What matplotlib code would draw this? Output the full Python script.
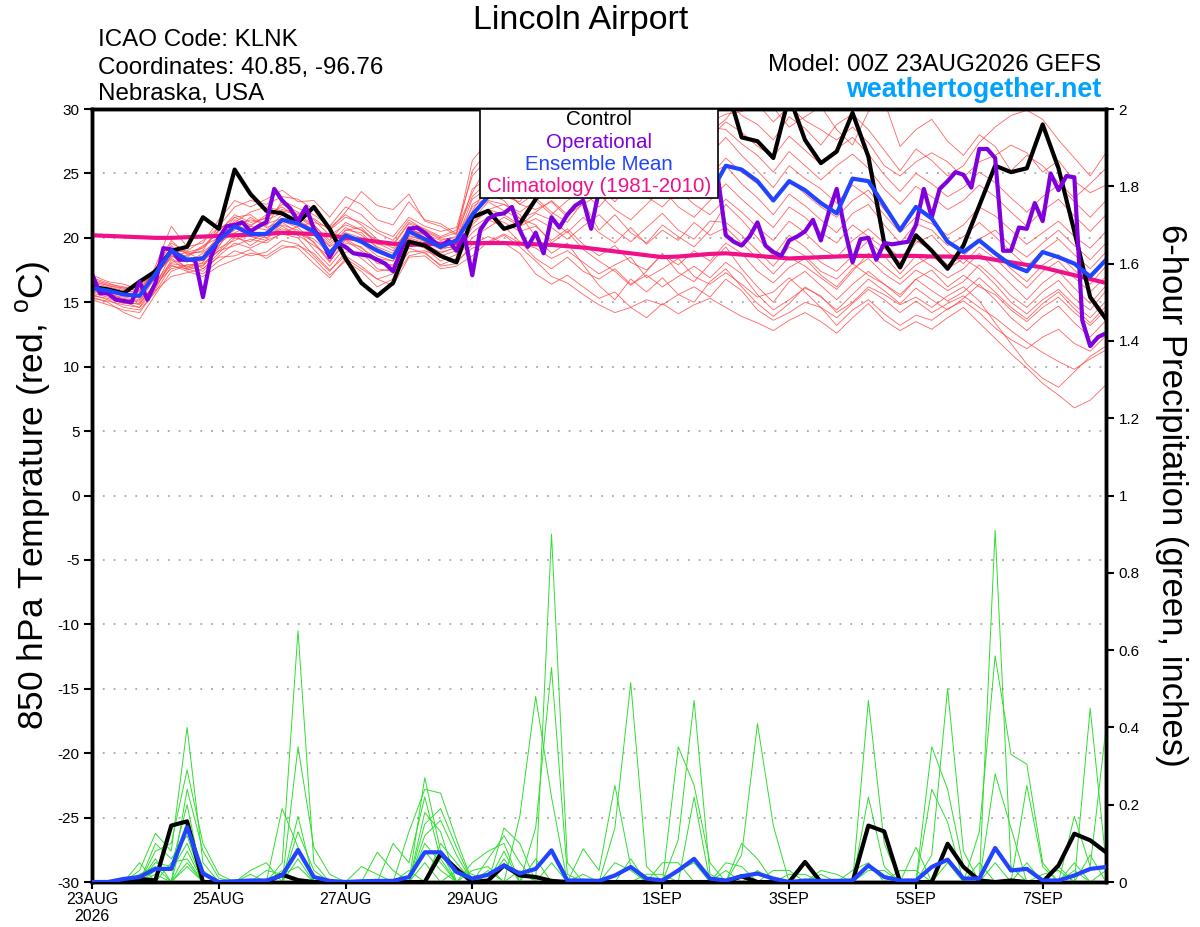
import matplotlib.pyplot as plt
import numpy as np

plt.rcParams['font.family'] = ['Liberation Sans', 'DejaVu Sans']
plt.rcParams['axes.unicode_minus'] = False
plt.rcParams['mathtext.fontset'] = 'custom'
plt.rcParams['mathtext.rm'] = 'Liberation Sans'

# forecast hours, 00Z 23AUG2026 run
hours = np.arange(0, 385, 6)
hours_op = np.arange(0, 385, 3)

tick_hours = [0, 48, 96, 144, 216, 264, 312, 360]
tick_labels = ["23AUG\n2026", "25AUG", "27AUG", "29AUG", "1SEP", "3SEP", "5SEP", "7SEP"]

# 850 hPa temperature (C)
control_t = [16.2,16.0,15.7,16.6,17.4,19.0,19.3,21.6,20.7,25.3,
             23.4,22.1,21.9,21.2,22.4,20.7,18.4,16.5,15.5,16.5,
             19.7,19.4,18.6,18.1,21.6,22.1,20.7,21.1,23.0,24.5,
             25.5,26.0,27.0,27.5,28.5,28.0,29.0,30.0,31.0,32.0,
             32.0,27.8,27.5,26.2,31.0,27.6,25.8,26.7,29.7,26.3,
             19.6,17.7,20.2,19.0,17.6,19.4,22.5,25.6,25.1,25.4,
             28.8,25.4,20.5,15.4,13.7]

mean_t = [16.1,15.9,15.6,15.5,17.2,19.0,18.3,18.4,19.8,20.9,
          20.3,20.3,21.4,21.1,20.5,18.8,20.2,19.7,19.0,18.5,
          20.5,19.9,19.3,19.8,21.8,23.2,23.5,23.2,23.8,24.0,
          23.6,24.2,24.0,23.5,24.2,23.8,24.0,23.5,23.8,23.4,
          25.6,25.3,24.4,22.9,24.4,23.7,22.7,21.9,24.6,24.4,
          22.5,20.6,22.4,21.5,19.7,18.9,19.8,18.8,17.9,17.4,
          18.9,18.5,18.0,17.0,18.3]

# operational run, every 3 hours
oper_t = [17.2,15.7,15.7,15.2,15.1,15.0,16.6,15.2,16.5,19.2,
          19.1,18.3,18.3,18.3,15.4,18.5,20.0,20.9,21.0,21.2,
          20.5,20.9,21.2,23.8,22.9,22.3,21.3,22.4,20.7,19.8,
          18.5,19.6,
          19.3,18.8,18.7,18.6,18.3,18.0,17.4,19.0,20.7,20.8,
          20.4,19.8,19.3,19.8,19.0,20.2,17.1,20.6,21.5,21.8,
          21.9,22.4,20.6,19.3,20.4,18.8,21.6,20.8,21.8,22.5,
          22.9,20.7,23.7,
          24.4,23.6,24.8,25.3,24.9,25.7,25.1,24.5,25.9,25.3,
          24.7,25.5,25.0,24.6,24.7,
          20.2,19.7,19.4,20.1,21.2,19.4,18.9,18.6,19.8,20.1,
          20.5,21.4,19.8,22.0,23.8,20.7,18.1,19.9,
          20.0,18.3,19.6,19.5,19.6,19.7,21.0,23.8,21.6,23.8,
          24.4,25.1,24.9,23.9,26.9,26.9,26.2,19.0,19.0,20.8,
          20.7,22.7,21.3,25.0,23.7,24.8,24.7,13.6,11.6,12.3,
          12.6]

clim_t = [20.2,20.15,20.1,20.05,20.0,20.0,20.05,20.1,20.15,20.2,
          20.25,20.3,20.4,20.35,20.3,20.2,20.0,19.85,19.7,19.55,
          19.45,19.5,19.55,19.6,19.6,19.6,19.6,19.55,19.5,19.45,
          19.35,19.25,19.1,18.95,18.8,18.65,18.5,18.55,18.65,18.75,
          18.8,18.7,18.6,18.5,18.4,18.45,18.5,18.55,18.6,18.6,
          18.6,18.6,18.6,18.55,18.55,18.5,18.5,18.3,18.1,17.9,
          17.7,17.4,17.1,16.8,16.5]

member_t = [
    [16.4,16.0,15.8,15.9,17.5,19.6,18.9,19.2, 20.5,21.8,21.2,21.5,22.6,22.0,21.4,20.2,
     21.0,20.6,19.8,19.5,21.2,20.7,20.1,20.6, 23.5,25.8,25.0,24.2,26.0,27.2,26.4,27.8,
     28.6,29.4,28.2,29.8,30.6,29.2,28.4,29.6, 30.8,29.5,28.8,27.6,29.4,28.5,27.2,28.8,
     29.6,28.4,26.8,25.2,26.9,26.0,24.8,25.6, 27.4,28.6,29.5,29.9,29.2,27.6,26.2,24.8,26.6],
    [15.6,15.2,14.6,14.4,15.8,17.8,17.6,17.2, 18.2,19.0,18.6,18.9,19.8,19.5,18.4,17.1,
     18.2,17.4,16.2,16.8,18.6,18.9,17.8,18.0, 19.5,20.1,19.6,18.8,17.2,16.4,17.1,16.2,
     15.3,15.8,14.6,15.2,14.8,15.6,16.2,15.4, 16.8,15.9,14.4,13.6,14.2,15.0,14.6,13.2,
     14.4,15.2,14.1,13.2,14.0,13.6,14.5,15.1, 14.2,13.0,12.1,11.4,12.3,12.9,11.8,11.2,12.4],
    [16.8,16.4,16.2,15.8,17.0,18.6,18.1,18.8, 19.6,20.4,20.9,20.6,21.8,21.1,20.2,19.0,
     20.4,20.0,18.9,18.4,20.2,19.7,19.1,19.4, 22.1,24.0,23.2,22.8,24.6,24.1,25.2,24.6,
     26.2,25.4,26.8,25.9,27.2,26.3,25.1,26.5, 27.8,26.4,25.2,23.9,25.6,24.6,23.8,22.7,
     24.1,23.2,21.8,20.4,21.6,21.1,20.2,21.0, 22.4,21.7,20.6,19.5,20.4,21.3,20.1,19.2,20.5],
    [15.9,15.7,15.1,14.8,16.6,18.1,18.4,17.6, 18.8,20.0,19.7,20.5,21.0,20.6,19.1,17.8,
     19.3,18.4,17.4,17.6,19.6,19.2,18.2,18.7, 20.8,21.6,21.2,20.5,20.9,19.8,20.7,19.5,
     18.6,19.4,18.1,17.5,18.7,17.9,19.0,18.2, 19.6,18.8,17.4,16.5,17.7,18.4,17.1,16.2,
     17.6,18.4,17.2,16.4,17.5,16.8,15.9,16.6, 17.9,16.8,15.5,14.6,15.8,16.7,15.3,14.4,15.9],
    [16.2,16.1,15.6,15.4,17.8,20.9,19.3,19.6, 21.4,22.9,22.4,23.0,23.7,22.8,22.9,21.6,
     23.2,22.6,21.4,21.0,22.8,21.4,21.1,20.3, 26.0,27.5,25.8,24.0,24.7,25.6,26.8,25.5,
     26.3,28.6,29.8,30.4,29.1,30.6,29.4,28.2, 29.2,30.8,31.2,30.1,28.6,29.4,30.2,28.4,
     27.2,29.8,30.6,27.1,28.4,29.2,27.5,26.4, 28.0,27.1,25.2,26.4,25.6,24.3,23.1,24.2,25.4],
    [15.4,15.0,14.2,13.7,15.6,17.4,17.9,18.0, 19.0,19.4,19.9,19.6,20.4,20.9,21.2,20.8,
     21.8,21.0,19.9,19.2,20.6,20.3,19.8,20.1, 21.4,22.8,22.1,21.5,22.0,22.9,21.8,22.6,
     23.4,22.2,21.4,22.6,23.8,22.4,21.6,22.9, 24.2,23.0,21.9,20.8,22.4,21.6,20.4,19.6,
     21.0,20.1,19.2,18.1,19.6,20.2,18.9,18.0, 19.3,18.4,17.2,16.1,17.4,18.2,16.9,15.8,17.0],
    [16.6,16.3,16.0,16.2,17.2,18.4,17.7,18.3, 19.4,20.8,20.1,19.8,21.2,20.4,19.7,18.2,
     19.6,19.3,18.0,17.9,19.9,19.5,18.6,19.0, 20.4,21.4,20.9,19.7,18.4,17.6,18.5,17.4,
     16.8,17.6,16.4,17.1,16.2,17.0,17.8,16.9, 18.1,17.2,15.6,14.4,15.2,16.1,15.5,14.2,
     15.0,16.2,15.6,14.8,15.4,14.6,15.5,16.2, 15.1,13.4,11.8,10.2,9.1,8.4,9.6,10.8,11.6],
    [17.1,16.6,16.4,16.0,16.8,18.9,19.0,19.8, 20.8,21.2,22.0,22.4,22.1,21.8,21.0,19.6,
     20.8,20.2,19.3,18.8,20.9,20.0,19.6,19.9, 23.8,24.6,24.2,23.6,24.2,23.4,24.5,25.6,
     24.8,26.4,27.6,26.9,28.2,27.3,26.6,27.8, 29.0,28.2,27.1,26.3,27.9,26.8,25.7,26.9,
     27.8,26.5,24.9,23.6,25.0,24.2,23.2,23.9, 25.1,24.3,23.1,22.0,23.2,24.1,22.8,21.6,22.9],
    [15.2,14.8,14.4,14.2,15.9,17.0,17.3,17.6, 18.5,18.6,19.1,18.4,19.2,19.4,18.8,17.5,
     18.6,17.8,16.8,17.2,18.9,19.0,18.5,18.2, 19.2,19.6,20.2,19.3,18.2,17.0,16.5,15.6,
     14.8,14.2,14.6,13.8,14.9,14.1,14.8,15.3, 14.6,13.9,13.4,12.8,13.6,14.2,13.5,12.6,
     13.8,14.9,13.6,12.8,13.5,12.9,13.8,14.6, 13.4,12.2,11.0,9.9,8.7,7.8,6.8,7.4,8.6],
    [16.0,15.5,15.3,15.1,16.9,19.4,18.2,18.6, 20.2,21.0,20.6,21.4,21.9,21.4,20.6,19.3,
     20.1,19.6,18.6,18.2,20.4,19.8,19.4,19.6, 21.9,22.9,22.6,22.0,22.9,21.8,22.9,23.6,
     22.4,23.8,24.9,24.0,25.4,24.6,23.4,24.8, 26.2,25.1,24.2,22.9,24.5,23.4,22.4,21.6,
     22.9,23.7,22.2,20.8,22.3,21.4,19.8,18.9, 19.9,20.6,19.4,18.5,19.6,20.6,19.4,18.3,19.6],
    [16.5,16.2,15.9,15.7,17.4,18.8,18.6,19.4, 20.0,21.6,21.8,20.9,22.9,22.3,21.8,20.9,
     22.4,21.8,20.6,20.1,21.6,20.9,20.5,20.8, 24.8,26.2,25.4,24.6,23.1,22.0,21.2,22.8,
     20.6,21.8,20.4,19.6,21.0,20.1,19.3,20.6, 22.6,21.4,20.0,18.6,20.2,19.3,18.1,17.4,
     18.6,19.8,18.6,17.2,18.6,17.8,16.9,17.6, 18.8,17.6,16.4,15.2,16.5,17.4,16.1,14.9,16.3],
    [15.8,15.6,15.4,15.2,16.2,18.0,17.8,17.4, 18.6,19.6,19.2,19.8,20.3,20.0,18.6,17.4,
     18.9,18.9,17.6,17.4,19.2,18.8,17.9,18.4, 20.0,20.8,21.6,20.9,21.5,20.8,19.9,20.9,
     21.8,20.6,19.7,20.8,21.9,20.6,19.9,21.3, 21.2,20.2,19.0,17.8,19.3,18.6,17.4,16.8,
     18.0,17.1,16.4,15.4,16.8,17.5,16.2,17.1, 16.2,15.6,14.4,13.5,14.6,15.4,14.2,13.2,14.4],
    [16.3,15.8,15.6,15.6,17.6,19.8,18.7,19.0, 20.9,22.4,22.9,22.6,23.2,23.0,22.2,20.6,
     22.0,23.6,22.5,22.2,23.4,21.3,20.9,20.2, 25.2,26.8,25.6,23.8,24.6,25.6,24.6,26.2,
     27.2,28.0,26.6,27.8,29.0,28.6,27.3,28.6, 28.4,27.3,26.4,25.1,26.7,25.6,24.5,25.6,
     26.5,25.4,23.8,22.6,24.0,23.2,22.2,22.9, 24.1,23.2,22.0,20.9,22.1,23.0,21.7,20.5,21.8],
    [15.5,15.3,14.9,14.9,16.4,17.6,17.9,17.8, 19.2,19.8,20.3,20.0,20.9,20.2,19.4,18.6,
     19.8,19.0,18.2,17.8,19.8,19.4,18.9,19.2, 22.6,23.4,22.9,21.5,21.0,19.6,20.5,19.1,
     18.2,17.4,16.3,17.4,18.8,17.3,16.6,18.0, 19.3,17.6,16.2,15.0,16.6,17.4,16.3,15.2,
     16.4,17.4,16.4,15.6,16.8,15.9,15.1,15.8, 16.9,15.8,14.6,13.7,14.9,15.8,14.5,13.4,14.7],
    [16.9,16.5,16.1,16.4,17.1,19.2,18.8,18.9, 19.9,20.9,21.4,21.1,21.5,21.6,21.0,19.8,
     21.2,20.6,19.6,19.0,20.7,20.2,19.4,19.8, 23.0,23.9,23.6,22.6,23.5,24.1,23.2,24.4,
     25.6,24.6,23.2,24.4,25.9,24.8,23.7,25.0, 25.6,24.2,23.1,21.8,23.4,22.5,21.4,20.4,
     21.9,22.6,21.0,19.6,21.1,20.6,19.4,20.1, 21.2,20.1,18.9,17.8,19.0,19.9,18.7,17.6,18.9],
    [15.7,15.4,15.0,14.6,16.0,18.3,17.5,17.9, 19.0,20.2,19.4,20.2,20.7,20.4,19.9,18.8,
     20.6,20.4,19.2,18.6,20.1,19.9,19.3,19.2, 21.2,22.2,21.8,21.0,21.9,21.4,20.4,21.6,
     20.4,19.6,20.8,19.5,20.6,19.8,21.2,20.2, 20.8,19.6,18.4,17.2,18.5,17.8,16.9,16.0,
     17.4,18.8,17.8,16.8,17.9,18.6,17.6,18.4, 17.6,16.4,15.0,14.1,15.2,16.0,14.8,13.8,15.1],
    [16.1,15.9,15.7,15.3,17.3,18.5,18.9,18.2, 19.3,21.4,20.9,21.8,22.4,21.6,20.8,19.4,
     20.6,20.8,19.5,19.4,21.1,20.5,19.9,20.0, 22.4,23.2,24.0,23.2,24.8,25.6,26.0,25.0,
     26.8,27.6,28.4,27.2,26.4,28.0,27.8,29.0, 29.6,29.8,30.4,29.0,30.2,29.1,28.4,27.6,
     28.6,27.4,25.6,24.8,25.9,26.6,25.9,24.7, 25.9,26.4,27.2,26.6,25.1,26.0,24.4,23.5,24.1],
    [15.3,15.1,14.8,14.6,16.5,17.9,17.4,17.0, 17.8,18.3,18.8,18.6,19.4,19.2,18.0,16.9,
     18.4,17.6,16.8,16.3,18.5,18.6,17.6,17.8, 18.6,19.7,20.3,19.6,19.2,18.4,19.0,18.1,
     17.2,17.9,18.5,16.9,17.6,18.4,17.0,16.4, 17.3,16.4,15.4,15.8,16.9,15.8,14.6,13.8,
     14.9,16.0,15.2,14.2,15.1,14.2,14.9,15.5, 14.6,13.8,12.8,11.9,11.1,10.4,9.8,10.6,11.3],
    [16.7,16.3,16.1,15.9,17.6,19.1,18.5,19.3, 20.6,21.6,21.0,21.6,22.2,21.9,21.5,20.6,
     21.6,21.2,20.4,19.8,21.4,20.6,20.0,20.4, 23.2,24.4,23.8,22.6,22.2,22.8,21.6,23.1,
     23.9,22.8,24.2,23.2,22.4,23.7,22.6,21.8, 23.0,22.0,20.8,19.8,21.3,20.4,19.2,18.5,
     19.8,20.7,19.6,18.4,19.8,19.0,17.9,18.6, 19.8,18.8,17.6,16.6,17.9,18.7,17.5,16.4,17.8],
    [16.0,15.8,15.2,15.0,16.3,18.7,17.6,18.1, 19.8,20.6,21.6,20.8,21.3,20.8,19.6,18.1,
     19.9,19.2,18.4,18.2,20.0,19.6,18.8,19.3, 21.0,22.2,22.6,21.8,20.1,18.8,19.6,17.9,
     16.3,15.2,16.8,15.8,16.9,15.6,15.0,16.6, 17.6,16.2,14.9,13.9,14.9,16.2,15.4,14.4,
     15.6,16.8,15.9,14.9,16.1,15.2,14.4,15.3, 16.4,15.2,13.8,12.8,13.9,14.7,13.4,12.3,13.6],
]

# 6-hour precipitation (inches)
control_p = [0,0,0,0.008,0.004,0.146,0.157,0,0,0,
             0,0,0.019,0.005,0,0,0,0,0,0,
             0,0,0.073,0.034,0,0.004,0.043,0.017,0.013,0.003,
             0,0,0,0,0,0,0,0,0,0,
             0,0.015,0,0,0,0.052,0,0,0,0.146,
             0.131,0,0,0,0.099,0.039,0.004,0,0.004,0,
             0,0.043,0.125,0.108,0.077]

mean_p = [0,0,0.008,0.013,0.034,0.034,0.142,0.022,0,0.002,
          0.004,0.004,0.017,0.083,0.013,0.003,0,0.002,0.003,0.003,
          0.013,0.077,0.077,0.026,0.009,0.019,0.043,0.022,0.034,0.082,
          0.004,0.004,0.003,0.017,0.039,0.009,0.004,0.03,0.06,0.009,
          0.004,0.015,0.022,0.009,0,0.004,0.003,0.003,0.004,0.043,
          0.013,0.004,0.004,0.039,0.058,0.009,0.009,0.088,0.03,0.034,
          0.004,0.004,0.017,0.034,0.039]

# members: step index -> amount, all other steps dry
member_p = [
    {3:0.03, 4:0.126, 5:0.08, 6:0.40, 7:0.05, 21:0.18, 22:0.13, 29:0.90, 30:0.05, 49:0.22, 50:0.04, 57:0.05},
    {4:0.08, 5:0.1, 6:0.29, 7:0.10, 8:0.02, 12:0.05, 13:0.65, 14:0.05, 21:0.27, 22:0.08, 34:0.06, 53:0.07, 54:0.50, 55:0.08, 63:0.07},
    {4:0.06, 6:0.24, 7:0.08, 8:0.01, 13:0.35, 14:0.09, 15:0.02, 20:0.13, 21:0.24, 22:0.23, 23:0.11, 28:0.14, 29:0.555, 30:0.02, 57:0.91, 58:0.04},
    {4:0.05, 5:0.04, 6:0.20, 12:0.19, 13:0.09, 19:0.10, 20:0.05, 21:0.22, 22:0.06, 33:0.14, 34:0.516, 35:0.04, 63:0.45, 64:0.05},
    {3:0.02, 4:0.04, 6:0.16, 7:0.03, 13:0.17, 18:0.077, 19:0.03, 21:0.15, 22:0.19, 23:0.09, 37:0.35, 38:0.25, 39:0.05, 56:0.13, 57:0.585, 58:0.33, 59:0.305, 60:0.05},
    {4:0.10, 5:0.06, 6:0.12, 13:0.13, 14:0.03, 21:0.12, 22:0.16, 23:0.07, 27:0.17, 28:0.48, 29:0.22, 41:0.10, 42:0.06, 53:0.35, 54:0.24, 55:0.04},
    {4:0.03, 5:0.03, 6:0.10, 13:0.06, 21:0.10, 22:0.05, 26:0.14, 27:0.10, 37:0.11, 38:0.47, 39:0.02, 49:0.47, 50:0.10, 62:0.17, 63:0.04, 64:0.40},
    {4:0.02, 6:0.08, 11:0.03, 12:0.02, 13:0.04, 21:0.08, 22:0.03, 25:0.06, 26:0.12, 27:0.05, 31:0.086, 32:0.03, 33:0.25, 34:0.04, 41:0.07, 42:0.41, 43:0.146},
    {3:0.05, 5:0.05, 6:0.06, 22:0.10, 23:0.05, 36:0.05, 37:0.05, 52:0.09},
    {3:0.01, 6:0.05, 24:0.05, 25:0.08, 26:0.10, 37:0.03, 38:0.05, 53:0.24, 54:0.155},
    {6:0.04, 24:0.03, 25:0.04, 38:0.22, 54:0.05, 57:0.28, 58:0.14},
    {10:0.03, 11:0.05, 25:0.03, 40:0.05, 41:0.04, 56:0.05, 59:0.25, 60:0.04},
    {10:0.02, 26:0.08, 40:0.03, 42:0.03, 59:0.05, 61:0.04},
    {12:0.03, 26:0.06, 43:0.03, 44:0.03, 60:0.02, 61:0.03},
    {17:0.04, 18:0.02, 27:0.03, 44:0.02, 45:0.02, 62:0.05},
    {20:0.03, 28:0.06, 46:0.03, 47:0.02, 62:0.03},
    {21:0.05, 29:0.05, 46:0.02, 64:0.03},
    {23:0.03, 24:0.02, 31:0.02, 48:0.03, 49:0.05},
    {33:0.05, 34:0.03, 49:0.03, 50:0.03},
    {35:0.02, 36:0.02, 51:0.03, 52:0.03},
]

fig = plt.figure(figsize=(12, 9.27), dpi=100)
ax = fig.add_axes([0.0767, 0.0485, 0.845, 0.8339])
ax2 = ax.twinx()

for m in member_t:
    ax.plot(hours, m, color='#ff4848', lw=0.6, alpha=0.85, zorder=2)
ax.plot(hours, clim_t, color='#f0108a', lw=3, zorder=3)
ax.plot(hours, control_t, color='black', lw=3, zorder=4)
ax.plot(hours_op, oper_t, color='#8000dd', lw=3, zorder=5)
ax.plot(hours, mean_t, color='#2244ff', lw=3, zorder=6)

for m in member_p:
    p = np.zeros(len(hours))
    for k, v in m.items():
        p[k] = v
    ax2.plot(hours, p, color='#30dd30', lw=0.7, zorder=2)
ax2.plot(hours, control_p, color='black', lw=3, zorder=4)
ax2.plot(hours, mean_p, color='#2244ff', lw=3, zorder=5)

ax.set_xlim(0, 384)
ax.set_ylim(-30, 30)
ax2.set_ylim(0, 2)

ax.set_yticks(range(-30, 31, 5))
ax.set_yticklabels([str(v) for v in range(-30, 31, 5)])
ax.yaxis.grid(True, linestyle=(0, (1, 5)), color='#a8a8a8', lw=1.3)
ax.set_xticks(tick_hours)
ax.set_xticklabels(tick_labels)

ptick = [0, 0.2, 0.4, 0.6, 0.8, 1, 1.2, 1.4, 1.6, 1.8, 2]
ax2.set_yticks(ptick)
ax2.set_yticklabels(["0", "0.2", "0.4", "0.6", "0.8", "1", "1.2", "1.4", "1.6", "1.8", "2"])

ax.tick_params(axis='y', direction='out', length=6, width=1.5, labelsize=11, pad=3)
ax.tick_params(axis='x', direction='out', length=5, width=1.5, labelsize=11.5, pad=2)
ax2.tick_params(axis='y', direction='out', length=6, width=1.5, labelsize=11, pad=3)

for a in (ax, ax2):
    for s in a.spines.values():
        s.set_linewidth(2.5)

# legend box
ax2.add_patch(plt.Rectangle((0.3826, 0.8849), 0.2348, 0.1151, transform=ax2.transAxes,
                            facecolor='white', edgecolor='black', lw=1.2, zorder=10))
leg_items = [("Control", 'black'), ("Operational", '#8000dd'),
             ("Ensemble Mean", '#2244ff'), ("Climatology (1981-2010)", '#f0108a')]
for n, (txt, col) in enumerate(leg_items):
    ax2.text(0.5, 0.9858 - n * 0.0288, txt, color=col, fontsize=14.8, ha='center', va='center',
             transform=ax2.transAxes, zorder=11)

fig.text(0.028, 0.466, "850 hPa Temprature (red, $^{\\mathrm{o}}$C)", rotation=90,
         fontsize=25.5, ha='center', va='center')
fig.text(0.976, 0.466, "6-hour Precipitation (green, inches)", rotation=-90,
         fontsize=25, ha='center', va='center')

fig.text(0.484, 1 - 28.5 / 927, "Lincoln Airport", fontsize=24.5, ha='center', va='baseline')
fig.text(98 / 1200, 1 - 46.5 / 927, "ICAO Code: KLNK", fontsize=17.4, va='baseline')
fig.text(98 / 1200, 1 - 74 / 927, "Coordinates: 40.85, -96.76", fontsize=17.4, va='baseline')
fig.text(98 / 1200, 1 - 100 / 927, "Nebraska, USA", fontsize=17.4, va='baseline')
fig.text(1101 / 1200, 1 - 71 / 927, "Model: 00Z 23AUG2026 GEFS", fontsize=17.4, ha='right', va='baseline')
fig.text(1101 / 1200, 1 - 97 / 927, "weathertogether.net", fontsize=19.4, ha='right', va='baseline',
         color='#00a2ff', fontweight='bold')

fig.savefig("out.png", dpi=100)
